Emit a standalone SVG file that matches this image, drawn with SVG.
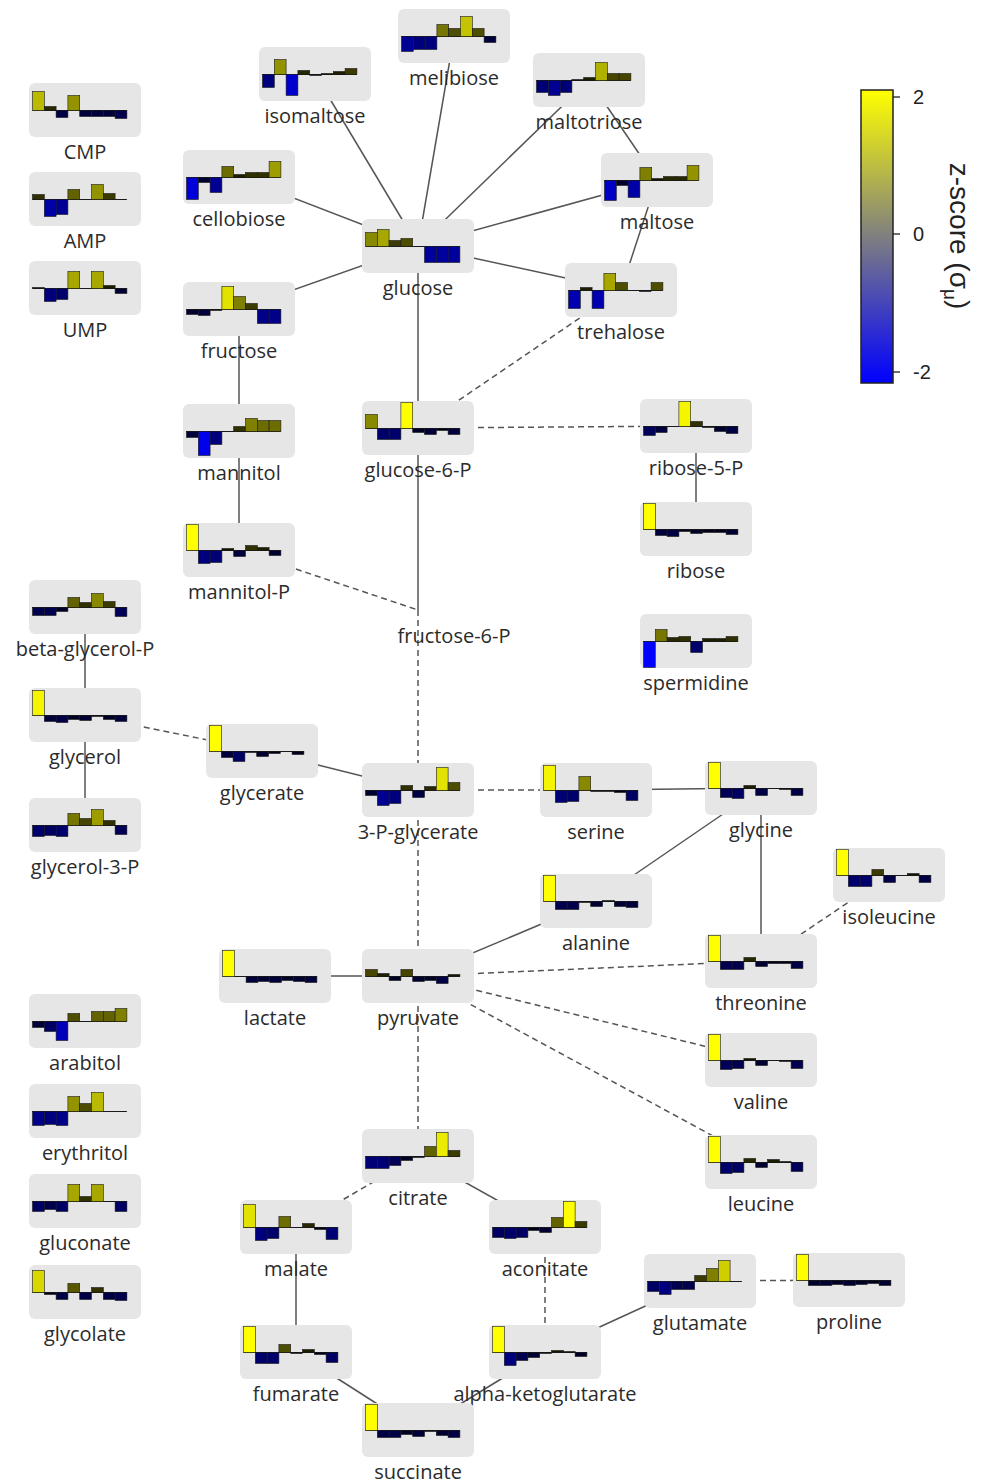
<svg xmlns="http://www.w3.org/2000/svg" width="987" height="1483" viewBox="0 0 987 1483">
<defs>
<linearGradient id="zg" x1="0" y1="0" x2="0" y2="1">
<stop offset="0" stop-color="#ffff00"/>
<stop offset="0.5" stop-color="#7f7f80"/>
<stop offset="1" stop-color="#0000ff"/>
</linearGradient>
<style>
.box{fill:#e6e6e6}
.lbl{font-family:"Open Sans","Noto Sans",sans-serif;font-size:20px;fill:#2b2b2b;text-anchor:middle}
.b{stroke:#1a1a1a;stroke-width:0.6}
.z{stroke:#1a1a1a;stroke-width:1}
.e{stroke:#555;stroke-width:1.5;fill:none}
.d{stroke-dasharray:6 4}
.lg{font-family:"Liberation Sans",Arial,sans-serif;fill:#222}
</style>
</defs>
<rect width="987" height="1483" fill="#fff"/>
<g id="connectors">
<line class="e" x1="315" y1="74" x2="418" y2="246"/>
<line class="e" x1="454" y1="36" x2="418" y2="246"/>
<line class="e" x1="589" y1="80" x2="418" y2="246"/>
<line class="e" x1="589" y1="80" x2="657" y2="180"/>
<line class="e" x1="239" y1="177" x2="418" y2="246"/>
<line class="e" x1="239" y1="309" x2="418" y2="246"/>
<line class="e" x1="657" y1="180" x2="418" y2="246"/>
<line class="e" x1="657" y1="180" x2="621" y2="290"/>
<line class="e" x1="418" y1="246" x2="621" y2="290"/>
<line class="e" x1="418" y1="246" x2="418" y2="428"/>
<line class="e" x1="239" y1="309" x2="239" y2="431"/>
<line class="e" x1="239" y1="431" x2="239" y2="550"/>
<line class="e" x1="418" y1="428" x2="418" y2="610"/>
<line class="e" x1="85" y1="607" x2="85" y2="715"/>
<line class="e" x1="85" y1="715" x2="85" y2="825"/>
<line class="e" x1="262" y1="751" x2="418" y2="790"/>
<line class="e" x1="596" y1="790" x2="761" y2="788"/>
<line class="e" x1="596" y1="901" x2="761" y2="788"/>
<line class="e" x1="761" y1="788" x2="761" y2="961"/>
<line class="e" x1="596" y1="901" x2="418" y2="976"/>
<line class="e" x1="275" y1="976" x2="418" y2="976"/>
<line class="e" x1="418" y1="1156" x2="545" y2="1227"/>
<line class="e" x1="296" y1="1227" x2="296" y2="1352"/>
<line class="e" x1="296" y1="1352" x2="418" y2="1430"/>
<line class="e" x1="418" y1="1430" x2="545" y2="1352"/>
<line class="e" x1="545" y1="1352" x2="700" y2="1281"/>
<line class="e" x1="696" y1="426" x2="696" y2="529"/>
<line class="e d" x1="621" y1="290" x2="418" y2="428"/>
<line class="e d" x1="418" y1="428" x2="696" y2="426"/>
<line class="e d" x1="239" y1="550" x2="418" y2="610"/>
<line class="e d" x1="418" y1="610" x2="418" y2="790"/>
<line class="e d" x1="85" y1="715" x2="262" y2="751"/>
<line class="e d" x1="418" y1="790" x2="596" y2="790"/>
<line class="e d" x1="418" y1="790" x2="418" y2="976"/>
<line class="e d" x1="418" y1="976" x2="761" y2="961"/>
<line class="e d" x1="418" y1="976" x2="761" y2="1060"/>
<line class="e d" x1="418" y1="976" x2="761" y2="1162"/>
<line class="e d" x1="889" y1="875" x2="761" y2="961"/>
<line class="e d" x1="418" y1="976" x2="418" y2="1156"/>
<line class="e d" x1="418" y1="1156" x2="296" y2="1227"/>
<line class="e d" x1="545" y1="1227" x2="545" y2="1352"/>
<line class="e d" x1="700" y1="1281" x2="849" y2="1280"/>
</g>

<g id="n-cmp" transform="translate(29,83)"><rect class="box" width="112" height="54" rx="6"/><line class="z" x1="3.5" y1="27.5" x2="97.9" y2="27.5"/>
<rect class="b" x="3.5" y="8.5" width="11.8" height="19" fill="#baba00"/><rect class="b" x="15.3" y="23.5" width="11.8" height="4" fill="#272700"/><rect class="b" x="27.1" y="27.5" width="11.8" height="7" fill="#000045"/><rect class="b" x="38.9" y="12.5" width="11.8" height="15" fill="#939300"/><rect class="b" x="50.7" y="27.5" width="11.8" height="6" fill="#00003b"/><rect class="b" x="62.5" y="27.5" width="11.8" height="6" fill="#00003b"/><rect class="b" x="74.3" y="27.5" width="11.8" height="6" fill="#00003b"/><rect class="b" x="86.1" y="27.5" width="11.8" height="8" fill="#00004e"/>
<text class="lbl" x="56" y="76">CMP</text></g>

<g id="n-amp" transform="translate(29,172)"><rect class="box" width="112" height="54" rx="6"/><line class="z" x1="3.5" y1="27.5" x2="97.9" y2="27.5"/>
<rect class="b" x="3.5" y="22.5" width="11.8" height="5" fill="#313100"/><rect class="b" x="15.3" y="27.5" width="11.8" height="17" fill="#0000a7"/><rect class="b" x="27.1" y="27.5" width="11.8" height="15" fill="#000093"/><rect class="b" x="38.9" y="17.5" width="11.8" height="10" fill="#626200"/><rect class="b" x="62.5" y="12.5" width="11.8" height="15" fill="#939300"/><rect class="b" x="74.3" y="21.5" width="11.8" height="6" fill="#3b3b00"/>
<text class="lbl" x="56" y="76">AMP</text></g>

<g id="n-ump" transform="translate(29,261)"><rect class="box" width="112" height="54" rx="6"/><line class="z" x1="3.5" y1="27.5" x2="97.9" y2="27.5"/>
<rect class="b" x="3.5" y="26.5" width="11.8" height="1" fill="#0a0a00"/><rect class="b" x="15.3" y="27.5" width="11.8" height="13" fill="#00007f"/><rect class="b" x="27.1" y="27.5" width="11.8" height="11" fill="#00006c"/><rect class="b" x="38.9" y="10.5" width="11.8" height="17" fill="#a7a700"/><rect class="b" x="62.5" y="10.5" width="11.8" height="17" fill="#a7a700"/><rect class="b" x="74.3" y="24.5" width="11.8" height="3" fill="#1d1d00"/><rect class="b" x="86.1" y="27.5" width="11.8" height="5" fill="#000031"/>
<text class="lbl" x="56" y="76">UMP</text></g>

<g id="n-isomaltose" transform="translate(259,47)"><rect class="box" width="112" height="54" rx="6"/><line class="z" x1="3.5" y1="27.5" x2="97.9" y2="27.5"/>
<rect class="b" x="3.5" y="27.5" width="11.8" height="13" fill="#00007f"/><rect class="b" x="15.3" y="12.5" width="11.8" height="15" fill="#939300"/><rect class="b" x="27.1" y="27.5" width="11.8" height="21" fill="#0000ce"/><rect class="b" x="38.9" y="23.5" width="11.8" height="4" fill="#272700"/><rect class="b" x="50.7" y="27.5" width="11.8" height="1" fill="#00000a"/><rect class="b" x="62.5" y="26.5" width="11.8" height="1" fill="#0a0a00"/><rect class="b" x="74.3" y="24.5" width="11.8" height="3" fill="#1d1d00"/><rect class="b" x="86.1" y="21.5" width="11.8" height="6" fill="#3b3b00"/>
<text class="lbl" x="56" y="76">isomaltose</text></g>

<g id="n-melibiose" transform="translate(398,9)"><rect class="box" width="112" height="54" rx="6"/><line class="z" x1="3.5" y1="27.5" x2="97.9" y2="27.5"/>
<rect class="b" x="3.5" y="27.5" width="11.8" height="15" fill="#000093"/><rect class="b" x="15.3" y="27.5" width="11.8" height="13" fill="#00007f"/><rect class="b" x="27.1" y="27.5" width="11.8" height="13" fill="#00007f"/><rect class="b" x="38.9" y="15.5" width="11.8" height="12" fill="#767600"/><rect class="b" x="50.7" y="19.5" width="11.8" height="8" fill="#4e4e00"/><rect class="b" x="62.5" y="7.5" width="11.8" height="20" fill="#c4c400"/><rect class="b" x="74.3" y="19.5" width="11.8" height="8" fill="#4e4e00"/><rect class="b" x="86.1" y="27.5" width="11.8" height="6" fill="#00003b"/>
<text class="lbl" x="56" y="76">melibiose</text></g>

<g id="n-maltotriose" transform="translate(533,53)"><rect class="box" width="112" height="54" rx="6"/><line class="z" x1="3.5" y1="27.5" x2="97.9" y2="27.5"/>
<rect class="b" x="3.5" y="27.5" width="11.8" height="12" fill="#000076"/><rect class="b" x="15.3" y="27.5" width="11.8" height="15" fill="#000093"/><rect class="b" x="27.1" y="27.5" width="11.8" height="12" fill="#000076"/><rect class="b" x="38.9" y="26.5" width="11.8" height="1" fill="#0a0a00"/><rect class="b" x="50.7" y="24.5" width="11.8" height="3" fill="#1d1d00"/><rect class="b" x="62.5" y="9.5" width="11.8" height="18" fill="#b1b100"/><rect class="b" x="74.3" y="20.5" width="11.8" height="7" fill="#454500"/><rect class="b" x="86.1" y="20.5" width="11.8" height="7" fill="#454500"/>
<text class="lbl" x="56" y="76">maltotriose</text></g>

<g id="n-cellobiose" transform="translate(183,150)"><rect class="box" width="112" height="54" rx="6"/><line class="z" x1="3.5" y1="27.5" x2="97.9" y2="27.5"/>
<rect class="b" x="3.5" y="27.5" width="11.8" height="22" fill="#0000d8"/><rect class="b" x="15.3" y="27.5" width="11.8" height="5" fill="#000031"/><rect class="b" x="27.1" y="27.5" width="11.8" height="15" fill="#000093"/><rect class="b" x="38.9" y="16.5" width="11.8" height="11" fill="#6c6c00"/><rect class="b" x="50.7" y="24.5" width="11.8" height="3" fill="#1d1d00"/><rect class="b" x="62.5" y="22.5" width="11.8" height="5" fill="#313100"/><rect class="b" x="74.3" y="22.5" width="11.8" height="5" fill="#313100"/><rect class="b" x="86.1" y="11.5" width="11.8" height="16" fill="#9d9d00"/>
<text class="lbl" x="56" y="76">cellobiose</text></g>

<g id="n-glucose" transform="translate(362,219)"><rect class="box" width="112" height="54" rx="6"/><line class="z" x1="3.5" y1="27.5" x2="97.9" y2="27.5"/>
<rect class="b" x="3.5" y="13.5" width="11.8" height="14" fill="#898900"/><rect class="b" x="15.3" y="10.5" width="11.8" height="17" fill="#a7a700"/><rect class="b" x="27.1" y="21.5" width="11.8" height="6" fill="#3b3b00"/><rect class="b" x="38.9" y="19.5" width="11.8" height="8" fill="#4e4e00"/><rect class="b" x="62.5" y="27.5" width="11.8" height="16" fill="#00009d"/><rect class="b" x="74.3" y="27.5" width="11.8" height="16" fill="#00009d"/><rect class="b" x="86.1" y="27.5" width="11.8" height="16" fill="#00009d"/>
<text class="lbl" x="56" y="76">glucose</text></g>

<g id="n-maltose" transform="translate(601,153)"><rect class="box" width="112" height="54" rx="6"/><line class="z" x1="3.5" y1="27.5" x2="97.9" y2="27.5"/>
<rect class="b" x="3.5" y="27.5" width="11.8" height="20" fill="#0000c4"/><rect class="b" x="15.3" y="27.5" width="11.8" height="5" fill="#000031"/><rect class="b" x="27.1" y="27.5" width="11.8" height="17" fill="#0000a7"/><rect class="b" x="38.9" y="14.5" width="11.8" height="13" fill="#7f7f00"/><rect class="b" x="50.7" y="25.5" width="11.8" height="2" fill="#141400"/><rect class="b" x="62.5" y="23.5" width="11.8" height="4" fill="#272700"/><rect class="b" x="74.3" y="23.5" width="11.8" height="4" fill="#272700"/><rect class="b" x="86.1" y="12.5" width="11.8" height="15" fill="#939300"/>
<text class="lbl" x="56" y="76">maltose</text></g>

<g id="n-fructose" transform="translate(183,282)"><rect class="box" width="112" height="54" rx="6"/><line class="z" x1="3.5" y1="27.5" x2="97.9" y2="27.5"/>
<rect class="b" x="3.5" y="27.5" width="11.8" height="5" fill="#000031"/><rect class="b" x="15.3" y="27.5" width="11.8" height="6" fill="#00003b"/><rect class="b" x="27.1" y="27.5" width="11.8" height="1" fill="#00000a"/><rect class="b" x="38.9" y="4.5" width="11.8" height="23" fill="#e2e200"/><rect class="b" x="50.7" y="14.5" width="11.8" height="13" fill="#7f7f00"/><rect class="b" x="62.5" y="21.5" width="11.8" height="6" fill="#3b3b00"/><rect class="b" x="74.3" y="27.5" width="11.8" height="14" fill="#000089"/><rect class="b" x="86.1" y="27.5" width="11.8" height="14" fill="#000089"/>
<text class="lbl" x="56" y="76">fructose</text></g>

<g id="n-trehalose" transform="translate(565,263)"><rect class="box" width="112" height="54" rx="6"/><line class="z" x1="3.5" y1="27.5" x2="97.9" y2="27.5"/>
<rect class="b" x="3.5" y="27.5" width="11.8" height="18" fill="#0000b1"/><rect class="b" x="15.3" y="24.5" width="11.8" height="3" fill="#1d1d00"/><rect class="b" x="27.1" y="27.5" width="11.8" height="18" fill="#0000b1"/><rect class="b" x="38.9" y="10.5" width="11.8" height="17" fill="#a7a700"/><rect class="b" x="50.7" y="19.5" width="11.8" height="8" fill="#4e4e00"/><rect class="b" x="74.3" y="27.5" width="11.8" height="1" fill="#00000a"/><rect class="b" x="86.1" y="19.5" width="11.8" height="8" fill="#4e4e00"/>
<text class="lbl" x="56" y="76">trehalose</text></g>

<g id="n-glucose-6-p" transform="translate(362,401)"><rect class="box" width="112" height="54" rx="6"/><line class="z" x1="3.5" y1="27.5" x2="97.9" y2="27.5"/>
<rect class="b" x="3.5" y="13.5" width="11.8" height="14" fill="#898900"/><rect class="b" x="15.3" y="27.5" width="11.8" height="11" fill="#00006c"/><rect class="b" x="27.1" y="27.5" width="11.8" height="11" fill="#00006c"/><rect class="b" x="38.9" y="1.5" width="11.8" height="26" fill="#ffff00"/><rect class="b" x="50.7" y="27.5" width="11.8" height="4" fill="#000027"/><rect class="b" x="62.5" y="27.5" width="11.8" height="6" fill="#00003b"/><rect class="b" x="74.3" y="27.5" width="11.8" height="2" fill="#000014"/><rect class="b" x="86.1" y="27.5" width="11.8" height="6" fill="#00003b"/>
<text class="lbl" x="56" y="76">glucose-6-P</text></g>

<g id="n-ribose-5-p" transform="translate(640,399)"><rect class="box" width="112" height="54" rx="6"/><line class="z" x1="3.5" y1="27.5" x2="97.9" y2="27.5"/>
<rect class="b" x="3.5" y="27.5" width="11.8" height="9" fill="#000058"/><rect class="b" x="15.3" y="27.5" width="11.8" height="6" fill="#00003b"/><rect class="b" x="38.9" y="2.5" width="11.8" height="25" fill="#f5f500"/><rect class="b" x="50.7" y="22.5" width="11.8" height="5" fill="#313100"/><rect class="b" x="62.5" y="27.5" width="11.8" height="1" fill="#00000a"/><rect class="b" x="74.3" y="27.5" width="11.8" height="5" fill="#000031"/><rect class="b" x="86.1" y="27.5" width="11.8" height="7" fill="#000045"/>
<text class="lbl" x="56" y="76">ribose-5-P</text></g>

<g id="n-ribose" transform="translate(640,502)"><rect class="box" width="112" height="54" rx="6"/><line class="z" x1="3.5" y1="27.5" x2="97.9" y2="27.5"/>
<rect class="b" x="3.5" y="1.5" width="11.8" height="26" fill="#ffff00"/><rect class="b" x="15.3" y="27.5" width="11.8" height="6" fill="#00003b"/><rect class="b" x="27.1" y="27.5" width="11.8" height="7" fill="#000045"/><rect class="b" x="38.9" y="27.5" width="11.8" height="2" fill="#000014"/><rect class="b" x="50.7" y="27.5" width="11.8" height="4" fill="#000027"/><rect class="b" x="62.5" y="27.5" width="11.8" height="3" fill="#00001d"/><rect class="b" x="74.3" y="27.5" width="11.8" height="3" fill="#00001d"/><rect class="b" x="86.1" y="27.5" width="11.8" height="5" fill="#000031"/>
<text class="lbl" x="56" y="76">ribose</text></g>

<g id="n-spermidine" transform="translate(640,614)"><rect class="box" width="112" height="54" rx="6"/><line class="z" x1="3.5" y1="27.5" x2="97.9" y2="27.5"/>
<rect class="b" x="3.5" y="27.5" width="11.8" height="26" fill="#0000ff"/><rect class="b" x="15.3" y="15.5" width="11.8" height="12" fill="#767600"/><rect class="b" x="27.1" y="23.5" width="11.8" height="4" fill="#272700"/><rect class="b" x="38.9" y="22.5" width="11.8" height="5" fill="#313100"/><rect class="b" x="50.7" y="27.5" width="11.8" height="11" fill="#00006c"/><rect class="b" x="62.5" y="24.5" width="11.8" height="3" fill="#1d1d00"/><rect class="b" x="74.3" y="24.5" width="11.8" height="3" fill="#1d1d00"/><rect class="b" x="86.1" y="22.5" width="11.8" height="5" fill="#313100"/>
<text class="lbl" x="56" y="76">spermidine</text></g>

<g id="n-mannitol" transform="translate(183,404)"><rect class="box" width="112" height="54" rx="6"/><line class="z" x1="3.5" y1="27.5" x2="97.9" y2="27.5"/>
<rect class="b" x="3.5" y="27.5" width="11.8" height="6" fill="#00003b"/><rect class="b" x="15.3" y="27.5" width="11.8" height="24" fill="#0000eb"/><rect class="b" x="27.1" y="27.5" width="11.8" height="13" fill="#00007f"/><rect class="b" x="50.7" y="22.5" width="11.8" height="5" fill="#313100"/><rect class="b" x="62.5" y="14.5" width="11.8" height="13" fill="#7f7f00"/><rect class="b" x="74.3" y="16.5" width="11.8" height="11" fill="#6c6c00"/><rect class="b" x="86.1" y="16.5" width="11.8" height="11" fill="#6c6c00"/>
<text class="lbl" x="56" y="76">mannitol</text></g>

<g id="n-mannitol-p" transform="translate(183,523)"><rect class="box" width="112" height="54" rx="6"/><line class="z" x1="3.5" y1="27.5" x2="97.9" y2="27.5"/>
<rect class="b" x="3.5" y="1.5" width="11.8" height="26" fill="#ffff00"/><rect class="b" x="15.3" y="27.5" width="11.8" height="13" fill="#00007f"/><rect class="b" x="27.1" y="27.5" width="11.8" height="12" fill="#000076"/><rect class="b" x="38.9" y="25.5" width="11.8" height="2" fill="#141400"/><rect class="b" x="50.7" y="27.5" width="11.8" height="6" fill="#00003b"/><rect class="b" x="62.5" y="22.5" width="11.8" height="5" fill="#313100"/><rect class="b" x="74.3" y="24.5" width="11.8" height="3" fill="#1d1d00"/><rect class="b" x="86.1" y="27.5" width="11.8" height="5" fill="#000031"/>
<text class="lbl" x="56" y="76">mannitol-P</text></g>

<g id="n-beta-glycerol-p" transform="translate(29,580)"><rect class="box" width="112" height="54" rx="6"/><line class="z" x1="3.5" y1="27.5" x2="97.9" y2="27.5"/>
<rect class="b" x="3.5" y="27.5" width="11.8" height="8" fill="#00004e"/><rect class="b" x="15.3" y="27.5" width="11.8" height="8" fill="#00004e"/><rect class="b" x="27.1" y="27.5" width="11.8" height="4" fill="#000027"/><rect class="b" x="38.9" y="17.5" width="11.8" height="10" fill="#626200"/><rect class="b" x="50.7" y="22.5" width="11.8" height="5" fill="#313100"/><rect class="b" x="62.5" y="13.5" width="11.8" height="14" fill="#898900"/><rect class="b" x="74.3" y="21.5" width="11.8" height="6" fill="#3b3b00"/><rect class="b" x="86.1" y="27.5" width="11.8" height="9" fill="#000058"/>
<text class="lbl" x="56" y="76">beta-glycerol-P</text></g>

<g id="n-glycerol" transform="translate(29,688)"><rect class="box" width="112" height="54" rx="6"/><line class="z" x1="3.5" y1="27.5" x2="97.9" y2="27.5"/>
<rect class="b" x="3.5" y="2.5" width="11.8" height="25" fill="#f5f500"/><rect class="b" x="15.3" y="27.5" width="11.8" height="6" fill="#00003b"/><rect class="b" x="27.1" y="27.5" width="11.8" height="7" fill="#000045"/><rect class="b" x="38.9" y="27.5" width="11.8" height="4" fill="#000027"/><rect class="b" x="50.7" y="27.5" width="11.8" height="5" fill="#000031"/><rect class="b" x="62.5" y="27.5" width="11.8" height="1" fill="#00000a"/><rect class="b" x="74.3" y="27.5" width="11.8" height="4" fill="#000027"/><rect class="b" x="86.1" y="27.5" width="11.8" height="6" fill="#00003b"/>
<text class="lbl" x="56" y="76">glycerol</text></g>

<g id="n-glycerate" transform="translate(206,724)"><rect class="box" width="112" height="54" rx="6"/><line class="z" x1="3.5" y1="27.5" x2="97.9" y2="27.5"/>
<rect class="b" x="3.5" y="1.5" width="11.8" height="26" fill="#ffff00"/><rect class="b" x="15.3" y="27.5" width="11.8" height="6" fill="#00003b"/><rect class="b" x="27.1" y="27.5" width="11.8" height="10" fill="#000062"/><rect class="b" x="38.9" y="27.5" width="11.8" height="1" fill="#00000a"/><rect class="b" x="50.7" y="27.5" width="11.8" height="5" fill="#000031"/><rect class="b" x="62.5" y="27.5" width="11.8" height="2" fill="#000014"/><rect class="b" x="86.1" y="27.5" width="11.8" height="3" fill="#00001d"/>
<text class="lbl" x="56" y="76">glycerate</text></g>

<g id="n-glycerol-3-p" transform="translate(29,798)"><rect class="box" width="112" height="54" rx="6"/><line class="z" x1="3.5" y1="27.5" x2="97.9" y2="27.5"/>
<rect class="b" x="3.5" y="27.5" width="11.8" height="11" fill="#00006c"/><rect class="b" x="15.3" y="27.5" width="11.8" height="10" fill="#000062"/><rect class="b" x="27.1" y="27.5" width="11.8" height="11" fill="#00006c"/><rect class="b" x="38.9" y="15.5" width="11.8" height="12" fill="#767600"/><rect class="b" x="50.7" y="20.5" width="11.8" height="7" fill="#454500"/><rect class="b" x="62.5" y="11.5" width="11.8" height="16" fill="#9d9d00"/><rect class="b" x="74.3" y="22.5" width="11.8" height="5" fill="#313100"/><rect class="b" x="86.1" y="27.5" width="11.8" height="9" fill="#000058"/>
<text class="lbl" x="56" y="76">glycerol-3-P</text></g>

<g id="n-3-p-glycerate" transform="translate(362,763)"><rect class="box" width="112" height="54" rx="6"/><line class="z" x1="3.5" y1="27.5" x2="97.9" y2="27.5"/>
<rect class="b" x="3.5" y="27.5" width="11.8" height="5" fill="#000031"/><rect class="b" x="15.3" y="27.5" width="11.8" height="15" fill="#000093"/><rect class="b" x="27.1" y="27.5" width="11.8" height="13" fill="#00007f"/><rect class="b" x="38.9" y="22.5" width="11.8" height="5" fill="#313100"/><rect class="b" x="50.7" y="27.5" width="11.8" height="7" fill="#000045"/><rect class="b" x="62.5" y="23.5" width="11.8" height="4" fill="#272700"/><rect class="b" x="74.3" y="4.5" width="11.8" height="23" fill="#e2e200"/><rect class="b" x="86.1" y="19.5" width="11.8" height="8" fill="#4e4e00"/>
<text class="lbl" x="56" y="76">3-P-glycerate</text></g>

<g id="n-serine" transform="translate(540,763)"><rect class="box" width="112" height="54" rx="6"/><line class="z" x1="3.5" y1="27.5" x2="97.9" y2="27.5"/>
<rect class="b" x="3.5" y="2.5" width="11.8" height="25" fill="#f5f500"/><rect class="b" x="15.3" y="27.5" width="11.8" height="12" fill="#000076"/><rect class="b" x="27.1" y="27.5" width="11.8" height="11" fill="#00006c"/><rect class="b" x="38.9" y="13.5" width="11.8" height="14" fill="#898900"/><rect class="b" x="50.7" y="27.5" width="11.8" height="1" fill="#00000a"/><rect class="b" x="62.5" y="27.5" width="11.8" height="1" fill="#00000a"/><rect class="b" x="74.3" y="27.5" width="11.8" height="2" fill="#000014"/><rect class="b" x="86.1" y="27.5" width="11.8" height="10" fill="#000062"/>
<text class="lbl" x="56" y="76">serine</text></g>

<g id="n-glycine" transform="translate(705,761)"><rect class="box" width="112" height="54" rx="6"/><line class="z" x1="3.5" y1="27.5" x2="97.9" y2="27.5"/>
<rect class="b" x="3.5" y="1.5" width="11.8" height="26" fill="#ffff00"/><rect class="b" x="15.3" y="27.5" width="11.8" height="9" fill="#000058"/><rect class="b" x="27.1" y="27.5" width="11.8" height="10" fill="#000062"/><rect class="b" x="38.9" y="24.5" width="11.8" height="3" fill="#1d1d00"/><rect class="b" x="50.7" y="27.5" width="11.8" height="7" fill="#000045"/><rect class="b" x="74.3" y="27.5" width="11.8" height="1" fill="#00000a"/><rect class="b" x="86.1" y="27.5" width="11.8" height="7" fill="#000045"/>
<text class="lbl" x="56" y="76">glycine</text></g>

<g id="n-alanine" transform="translate(540,874)"><rect class="box" width="112" height="54" rx="6"/><line class="z" x1="3.5" y1="27.5" x2="97.9" y2="27.5"/>
<rect class="b" x="3.5" y="1.5" width="11.8" height="26" fill="#ffff00"/><rect class="b" x="15.3" y="27.5" width="11.8" height="8" fill="#00004e"/><rect class="b" x="27.1" y="27.5" width="11.8" height="8" fill="#00004e"/><rect class="b" x="38.9" y="27.5" width="11.8" height="1" fill="#00000a"/><rect class="b" x="50.7" y="27.5" width="11.8" height="5" fill="#000031"/><rect class="b" x="62.5" y="26.5" width="11.8" height="1" fill="#0a0a00"/><rect class="b" x="74.3" y="27.5" width="11.8" height="5" fill="#000031"/><rect class="b" x="86.1" y="27.5" width="11.8" height="6" fill="#00003b"/>
<text class="lbl" x="56" y="76">alanine</text></g>

<g id="n-isoleucine" transform="translate(833,848)"><rect class="box" width="112" height="54" rx="6"/><line class="z" x1="3.5" y1="27.5" x2="97.9" y2="27.5"/>
<rect class="b" x="3.5" y="1.5" width="11.8" height="26" fill="#ffff00"/><rect class="b" x="15.3" y="27.5" width="11.8" height="11" fill="#00006c"/><rect class="b" x="27.1" y="27.5" width="11.8" height="11" fill="#00006c"/><rect class="b" x="38.9" y="21.5" width="11.8" height="6" fill="#3b3b00"/><rect class="b" x="50.7" y="27.5" width="11.8" height="7" fill="#000045"/><rect class="b" x="74.3" y="25.5" width="11.8" height="2" fill="#141400"/><rect class="b" x="86.1" y="27.5" width="11.8" height="7" fill="#000045"/>
<text class="lbl" x="56" y="76">isoleucine</text></g>

<g id="n-lactate" transform="translate(219,949)"><rect class="box" width="112" height="54" rx="6"/><line class="z" x1="3.5" y1="27.5" x2="97.9" y2="27.5"/>
<rect class="b" x="3.5" y="1.5" width="11.8" height="26" fill="#ffff00"/><rect class="b" x="27.1" y="27.5" width="11.8" height="6" fill="#00003b"/><rect class="b" x="38.9" y="27.5" width="11.8" height="5" fill="#000031"/><rect class="b" x="50.7" y="27.5" width="11.8" height="6" fill="#00003b"/><rect class="b" x="62.5" y="27.5" width="11.8" height="4" fill="#000027"/><rect class="b" x="74.3" y="27.5" width="11.8" height="5" fill="#000031"/><rect class="b" x="86.1" y="27.5" width="11.8" height="6" fill="#00003b"/>
<text class="lbl" x="56" y="76">lactate</text></g>

<g id="n-pyruvate" transform="translate(362,949)"><rect class="box" width="112" height="54" rx="6"/><line class="z" x1="3.5" y1="27.5" x2="97.9" y2="27.5"/>
<rect class="b" x="3.5" y="20.5" width="11.8" height="7" fill="#454500"/><rect class="b" x="15.3" y="24.5" width="11.8" height="3" fill="#1d1d00"/><rect class="b" x="27.1" y="27.5" width="11.8" height="4" fill="#000027"/><rect class="b" x="38.9" y="20.5" width="11.8" height="7" fill="#454500"/><rect class="b" x="50.7" y="27.5" width="11.8" height="5" fill="#000031"/><rect class="b" x="62.5" y="27.5" width="11.8" height="4" fill="#000027"/><rect class="b" x="74.3" y="27.5" width="11.8" height="7" fill="#000045"/><rect class="b" x="86.1" y="25.5" width="11.8" height="2" fill="#141400"/>
<text class="lbl" x="56" y="76">pyruvate</text></g>

<g id="n-threonine" transform="translate(705,934)"><rect class="box" width="112" height="54" rx="6"/><line class="z" x1="3.5" y1="27.5" x2="97.9" y2="27.5"/>
<rect class="b" x="3.5" y="1.5" width="11.8" height="26" fill="#ffff00"/><rect class="b" x="15.3" y="27.5" width="11.8" height="8" fill="#00004e"/><rect class="b" x="27.1" y="27.5" width="11.8" height="8" fill="#00004e"/><rect class="b" x="38.9" y="23.5" width="11.8" height="4" fill="#272700"/><rect class="b" x="50.7" y="27.5" width="11.8" height="5" fill="#000031"/><rect class="b" x="62.5" y="27.5" width="11.8" height="2" fill="#000014"/><rect class="b" x="74.3" y="27.5" width="11.8" height="2" fill="#000014"/><rect class="b" x="86.1" y="27.5" width="11.8" height="7" fill="#000045"/>
<text class="lbl" x="56" y="76">threonine</text></g>

<g id="n-arabitol" transform="translate(29,994)"><rect class="box" width="112" height="54" rx="6"/><line class="z" x1="3.5" y1="27.5" x2="97.9" y2="27.5"/>
<rect class="b" x="3.5" y="27.5" width="11.8" height="6" fill="#00003b"/><rect class="b" x="15.3" y="27.5" width="11.8" height="10" fill="#000062"/><rect class="b" x="27.1" y="27.5" width="11.8" height="19" fill="#0000ba"/><rect class="b" x="38.9" y="19.5" width="11.8" height="8" fill="#4e4e00"/><rect class="b" x="62.5" y="17.5" width="11.8" height="10" fill="#626200"/><rect class="b" x="74.3" y="17.5" width="11.8" height="10" fill="#626200"/><rect class="b" x="86.1" y="14.5" width="11.8" height="13" fill="#7f7f00"/>
<text class="lbl" x="56" y="76">arabitol</text></g>

<g id="n-valine" transform="translate(705,1033)"><rect class="box" width="112" height="54" rx="6"/><line class="z" x1="3.5" y1="27.5" x2="97.9" y2="27.5"/>
<rect class="b" x="3.5" y="1.5" width="11.8" height="26" fill="#ffff00"/><rect class="b" x="15.3" y="27.5" width="11.8" height="9" fill="#000058"/><rect class="b" x="27.1" y="27.5" width="11.8" height="8" fill="#00004e"/><rect class="b" x="38.9" y="25.5" width="11.8" height="2" fill="#141400"/><rect class="b" x="50.7" y="27.5" width="11.8" height="5" fill="#000031"/><rect class="b" x="74.3" y="27.5" width="11.8" height="1" fill="#00000a"/><rect class="b" x="86.1" y="27.5" width="11.8" height="8" fill="#00004e"/>
<text class="lbl" x="56" y="76">valine</text></g>

<g id="n-erythritol" transform="translate(29,1084)"><rect class="box" width="112" height="54" rx="6"/><line class="z" x1="3.5" y1="27.5" x2="97.9" y2="27.5"/>
<rect class="b" x="3.5" y="27.5" width="11.8" height="14" fill="#000089"/><rect class="b" x="15.3" y="27.5" width="11.8" height="13" fill="#00007f"/><rect class="b" x="27.1" y="27.5" width="11.8" height="14" fill="#000089"/><rect class="b" x="38.9" y="12.5" width="11.8" height="15" fill="#939300"/><rect class="b" x="50.7" y="19.5" width="11.8" height="8" fill="#4e4e00"/><rect class="b" x="62.5" y="8.5" width="11.8" height="19" fill="#baba00"/>
<text class="lbl" x="56" y="76">erythritol</text></g>

<g id="n-leucine" transform="translate(705,1135)"><rect class="box" width="112" height="54" rx="6"/><line class="z" x1="3.5" y1="27.5" x2="97.9" y2="27.5"/>
<rect class="b" x="3.5" y="1.5" width="11.8" height="26" fill="#ffff00"/><rect class="b" x="15.3" y="27.5" width="11.8" height="11" fill="#00006c"/><rect class="b" x="27.1" y="27.5" width="11.8" height="10" fill="#000062"/><rect class="b" x="38.9" y="23.5" width="11.8" height="4" fill="#272700"/><rect class="b" x="50.7" y="27.5" width="11.8" height="5" fill="#000031"/><rect class="b" x="62.5" y="24.5" width="11.8" height="3" fill="#1d1d00"/><rect class="b" x="74.3" y="26.5" width="11.8" height="1" fill="#0a0a00"/><rect class="b" x="86.1" y="27.5" width="11.8" height="9" fill="#000058"/>
<text class="lbl" x="56" y="76">leucine</text></g>

<g id="n-citrate" transform="translate(362,1129)"><rect class="box" width="112" height="54" rx="6"/><line class="z" x1="3.5" y1="27.5" x2="97.9" y2="27.5"/>
<rect class="b" x="3.5" y="27.5" width="11.8" height="12" fill="#000076"/><rect class="b" x="15.3" y="27.5" width="11.8" height="12" fill="#000076"/><rect class="b" x="27.1" y="27.5" width="11.8" height="9" fill="#000058"/><rect class="b" x="38.9" y="27.5" width="11.8" height="4" fill="#000027"/><rect class="b" x="50.7" y="27.5" width="11.8" height="1" fill="#00000a"/><rect class="b" x="62.5" y="17.5" width="11.8" height="10" fill="#626200"/><rect class="b" x="74.3" y="3.5" width="11.8" height="24" fill="#ebeb00"/><rect class="b" x="86.1" y="21.5" width="11.8" height="6" fill="#3b3b00"/>
<text class="lbl" x="56" y="76">citrate</text></g>

<g id="n-gluconate" transform="translate(29,1174)"><rect class="box" width="112" height="54" rx="6"/><line class="z" x1="3.5" y1="27.5" x2="97.9" y2="27.5"/>
<rect class="b" x="3.5" y="27.5" width="11.8" height="10" fill="#000062"/><rect class="b" x="15.3" y="27.5" width="11.8" height="8" fill="#00004e"/><rect class="b" x="27.1" y="27.5" width="11.8" height="10" fill="#000062"/><rect class="b" x="38.9" y="10.5" width="11.8" height="17" fill="#a7a700"/><rect class="b" x="50.7" y="22.5" width="11.8" height="5" fill="#313100"/><rect class="b" x="62.5" y="10.5" width="11.8" height="17" fill="#a7a700"/><rect class="b" x="86.1" y="27.5" width="11.8" height="10" fill="#000062"/>
<text class="lbl" x="56" y="76">gluconate</text></g>

<g id="n-malate" transform="translate(240,1200)"><rect class="box" width="112" height="54" rx="6"/><line class="z" x1="3.5" y1="27.5" x2="97.9" y2="27.5"/>
<rect class="b" x="3.5" y="4.5" width="11.8" height="23" fill="#e2e200"/><rect class="b" x="15.3" y="27.5" width="11.8" height="13" fill="#00007f"/><rect class="b" x="27.1" y="27.5" width="11.8" height="11" fill="#00006c"/><rect class="b" x="38.9" y="16.5" width="11.8" height="11" fill="#6c6c00"/><rect class="b" x="62.5" y="23.5" width="11.8" height="4" fill="#272700"/><rect class="b" x="74.3" y="27.5" width="11.8" height="2" fill="#000014"/><rect class="b" x="86.1" y="27.5" width="11.8" height="12" fill="#000076"/>
<text class="lbl" x="56" y="76">malate</text></g>

<g id="n-aconitate" transform="translate(489,1200)"><rect class="box" width="112" height="54" rx="6"/><line class="z" x1="3.5" y1="27.5" x2="97.9" y2="27.5"/>
<rect class="b" x="3.5" y="27.5" width="11.8" height="10" fill="#000062"/><rect class="b" x="15.3" y="27.5" width="11.8" height="11" fill="#00006c"/><rect class="b" x="27.1" y="27.5" width="11.8" height="10" fill="#000062"/><rect class="b" x="38.9" y="27.5" width="11.8" height="3" fill="#00001d"/><rect class="b" x="50.7" y="27.5" width="11.8" height="5" fill="#000031"/><rect class="b" x="62.5" y="17.5" width="11.8" height="10" fill="#626200"/><rect class="b" x="74.3" y="1.5" width="11.8" height="26" fill="#ffff00"/><rect class="b" x="86.1" y="21.5" width="11.8" height="6" fill="#3b3b00"/>
<text class="lbl" x="56" y="76">aconitate</text></g>

<g id="n-glutamate" transform="translate(644,1254)"><rect class="box" width="112" height="54" rx="6"/><line class="z" x1="3.5" y1="27.5" x2="97.9" y2="27.5"/>
<rect class="b" x="3.5" y="27.5" width="11.8" height="10" fill="#000062"/><rect class="b" x="15.3" y="27.5" width="11.8" height="13" fill="#00007f"/><rect class="b" x="27.1" y="27.5" width="11.8" height="8" fill="#00004e"/><rect class="b" x="38.9" y="27.5" width="11.8" height="8" fill="#00004e"/><rect class="b" x="50.7" y="21.5" width="11.8" height="6" fill="#3b3b00"/><rect class="b" x="62.5" y="14.5" width="11.8" height="13" fill="#7f7f00"/><rect class="b" x="74.3" y="6.5" width="11.8" height="21" fill="#cece00"/>
<text class="lbl" x="56" y="76">glutamate</text></g>

<g id="n-proline" transform="translate(793,1253)"><rect class="box" width="112" height="54" rx="6"/><line class="z" x1="3.5" y1="27.5" x2="97.9" y2="27.5"/>
<rect class="b" x="3.5" y="1.5" width="11.8" height="26" fill="#ffff00"/><rect class="b" x="15.3" y="27.5" width="11.8" height="5" fill="#000031"/><rect class="b" x="27.1" y="27.5" width="11.8" height="5" fill="#000031"/><rect class="b" x="38.9" y="27.5" width="11.8" height="4" fill="#000027"/><rect class="b" x="50.7" y="27.5" width="11.8" height="5" fill="#000031"/><rect class="b" x="62.5" y="27.5" width="11.8" height="4" fill="#000027"/><rect class="b" x="74.3" y="27.5" width="11.8" height="3" fill="#00001d"/><rect class="b" x="86.1" y="27.5" width="11.8" height="5" fill="#000031"/>
<text class="lbl" x="56" y="76">proline</text></g>

<g id="n-glycolate" transform="translate(29,1265)"><rect class="box" width="112" height="54" rx="6"/><line class="z" x1="3.5" y1="27.5" x2="97.9" y2="27.5"/>
<rect class="b" x="3.5" y="5.5" width="11.8" height="22" fill="#d8d800"/><rect class="b" x="15.3" y="27.5" width="11.8" height="2" fill="#000014"/><rect class="b" x="27.1" y="27.5" width="11.8" height="7" fill="#000045"/><rect class="b" x="38.9" y="18.5" width="11.8" height="9" fill="#585800"/><rect class="b" x="50.7" y="27.5" width="11.8" height="7" fill="#000045"/><rect class="b" x="62.5" y="22.5" width="11.8" height="5" fill="#313100"/><rect class="b" x="74.3" y="27.5" width="11.8" height="7" fill="#000045"/><rect class="b" x="86.1" y="27.5" width="11.8" height="8" fill="#00004e"/>
<text class="lbl" x="56" y="76">glycolate</text></g>

<g id="n-fumarate" transform="translate(240,1325)"><rect class="box" width="112" height="54" rx="6"/><line class="z" x1="3.5" y1="27.5" x2="97.9" y2="27.5"/>
<rect class="b" x="3.5" y="1.5" width="11.8" height="26" fill="#ffff00"/><rect class="b" x="15.3" y="27.5" width="11.8" height="11" fill="#00006c"/><rect class="b" x="27.1" y="27.5" width="11.8" height="11" fill="#00006c"/><rect class="b" x="38.9" y="19.5" width="11.8" height="8" fill="#4e4e00"/><rect class="b" x="50.7" y="27.5" width="11.8" height="1" fill="#00000a"/><rect class="b" x="62.5" y="24.5" width="11.8" height="3" fill="#1d1d00"/><rect class="b" x="74.3" y="27.5" width="11.8" height="2" fill="#000014"/><rect class="b" x="86.1" y="27.5" width="11.8" height="10" fill="#000062"/>
<text class="lbl" x="56" y="76">fumarate</text></g>

<g id="n-alpha-ketoglutarate" transform="translate(489,1325)"><rect class="box" width="112" height="54" rx="6"/><line class="z" x1="3.5" y1="27.5" x2="97.9" y2="27.5"/>
<rect class="b" x="3.5" y="1.5" width="11.8" height="26" fill="#ffff00"/><rect class="b" x="15.3" y="27.5" width="11.8" height="13" fill="#00007f"/><rect class="b" x="27.1" y="27.5" width="11.8" height="8" fill="#00004e"/><rect class="b" x="38.9" y="27.5" width="11.8" height="5" fill="#000031"/><rect class="b" x="50.7" y="27.5" width="11.8" height="1" fill="#00000a"/><rect class="b" x="62.5" y="25.5" width="11.8" height="2" fill="#141400"/><rect class="b" x="74.3" y="26.5" width="11.8" height="1" fill="#0a0a00"/><rect class="b" x="86.1" y="27.5" width="11.8" height="4" fill="#000027"/>
<text class="lbl" x="56" y="76">alpha-ketoglutarate</text></g>

<g id="n-succinate" transform="translate(362,1403)"><rect class="box" width="112" height="54" rx="6"/><line class="z" x1="3.5" y1="27.5" x2="97.9" y2="27.5"/>
<rect class="b" x="3.5" y="1.5" width="11.8" height="26" fill="#ffff00"/><rect class="b" x="15.3" y="27.5" width="11.8" height="7" fill="#000045"/><rect class="b" x="27.1" y="27.5" width="11.8" height="7" fill="#000045"/><rect class="b" x="38.9" y="27.5" width="11.8" height="4" fill="#000027"/><rect class="b" x="50.7" y="27.5" width="11.8" height="6" fill="#00003b"/><rect class="b" x="62.5" y="27.5" width="11.8" height="1" fill="#00000a"/><rect class="b" x="74.3" y="27.5" width="11.8" height="5" fill="#000031"/><rect class="b" x="86.1" y="27.5" width="11.8" height="7" fill="#000045"/>
<text class="lbl" x="56" y="76">succinate</text></g>

<g id="n-fructose-6-p">
<text class="lbl" x="454" y="643">fructose-6-P</text>
</g>

<g id="legend">
<rect x="861" y="90" width="32" height="293" fill="url(#zg)" stroke="#222" stroke-width="1.5"/>
<line x1="893" y1="97" x2="900" y2="97" stroke="#222" stroke-width="1.3"/>
<line x1="893" y1="234" x2="900" y2="234" stroke="#222" stroke-width="1.3"/>
<line x1="893" y1="372" x2="900" y2="372" stroke="#222" stroke-width="1.3"/>
<text class="lg" x="913" y="104" font-size="20">2</text>
<text class="lg" x="913" y="241" font-size="20">0</text>
<text class="lg" x="913" y="379" font-size="20">-2</text>
<text class="lg" font-size="28" text-anchor="middle" transform="translate(950,236) rotate(90)">z-score (σ<tspan font-size="19" dy="6">μ</tspan><tspan dy="-6">)</tspan></text>
</g>
</svg>
